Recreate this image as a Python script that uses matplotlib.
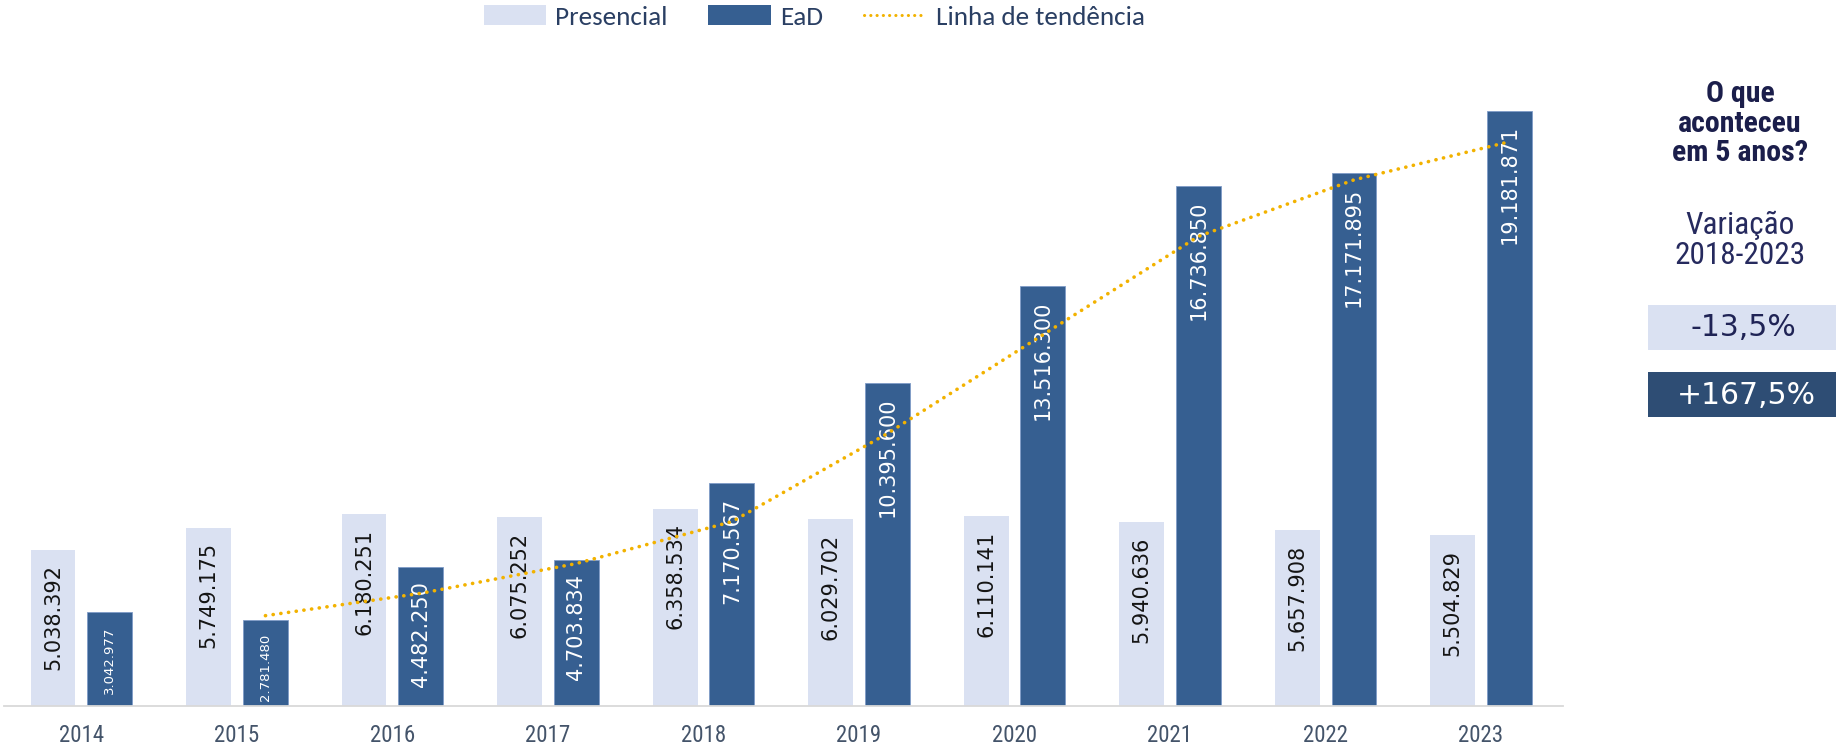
import matplotlib
matplotlib.use('Agg')
import matplotlib.pyplot as plt
from matplotlib.patches import Patch, Rectangle
from matplotlib.lines import Line2D

# dados
anos = ['2014', '2015', '2016', '2017', '2018', '2019', '2020', '2021', '2022', '2023']
presencial = [5038392, 5749175, 6180251, 6075252, 6358534, 6029702, 6110141, 5940636, 5657908, 5504829]
ead = [3042977, 2781480, 4482250, 4703834, 7170567, 10395600, 13516300, 16736850, 17171895, 19181871]
# linha de tendencia (2015 a 2023)
tend_anos = ['2015', '2016', '2017', '2018', '2019', '2020', '2021', '2022', '2023']
tendencia = [2.91e6, 3.63e6, 4.59e6, 5.94e6, 8.78e6, 11.96e6, 15.13e6, 16.95e6, 18.18e6]
var_presencial = '-13,5%'
var_ead = '+167,5%'

COR_PRES = '#DAE1F2'
COR_EAD = '#365F91'
COR_TEND = '#F2B200'
NARROW = ['Liberation Sans Narrow', 'Roboto Condensed', 'Archivo Narrow', 'Liberation Sans']
CALIBRI = ['Carlito', 'Lato', 'DejaVu Sans']

W, H = 1836, 748
fig = plt.figure(figsize=(W / 100, H / 100), dpi=100)
fig.patch.set_facecolor('white')

def fx(x):
    return x / W

def fy(y):
    return 1 - y / H

ax = fig.add_axes([fx(4), fy(706), fx(1563 - 4), (706 - 40) / H])
ax.set_facecolor('none')

x = list(range(len(anos)))
larg = 0.289
off = 0.183
xp = [i - off for i in x]
xe = [i + off for i in x]
ax.bar(xp, presencial, width=larg, color=COR_PRES, zorder=2)
ax.bar(xe, ead, width=larg, color=COR_EAD, edgecolor='#7F9CC8', linewidth=0.6, zorder=2)

def fmt(v):
    return f'{v:,}'.replace(',', '.')

for xi, v in zip(xp, presencial):
    ax.annotate(fmt(v), (xi, v), xytext=(0, -10.5), textcoords='offset points',
                rotation=90, ha='center', va='top', fontsize=15,
                color='#141414', family='DejaVu Sans', zorder=3)
for xi, v in zip(xe, ead):
    fs = 9.5 if v < 4e6 else 15
    ax.annotate(fmt(v), (xi, v), xytext=(0, -10.5), textcoords='offset points',
                rotation=90, ha='center', va='top', fontsize=fs,
                color='white', family='DejaVu Sans', zorder=3)

xt = [anos.index(a) + off for a in tend_anos]
ax.plot(xt, tendencia, color=COR_TEND, linewidth=2.6,
        linestyle=(0, (0.05, 2.1)), dash_capstyle='round', zorder=4)

ax.set_xlim(-0.498, 9.527)
ax.set_ylim(0, (706 - 40) / 31.04 * 1e6)
for s in ['top', 'right', 'left']:
    ax.spines[s].set_visible(False)
ax.spines['bottom'].set_color('#D9D9D9')
ax.spines['bottom'].set_linewidth(1.3)
ax.set_yticks([])
ax.set_xticks(x)
ax.set_xticklabels(anos, family=NARROW, fontsize=16.5, color='#44546A')
ax.tick_params(axis='x', length=0, pad=13)

handles = [Patch(facecolor=COR_PRES, edgecolor='none'),
           Patch(facecolor=COR_EAD, edgecolor='none'),
           Line2D([0], [0], color=COR_TEND, linewidth=2.2,
                  linestyle=(0, (0.05, 2.0)), dash_capstyle='round')]
leg = fig.legend(handles, ['Presencial', 'EaD', 'Linha de tendência'],
                 loc='center', bbox_to_anchor=(fx(814), fy(17)), ncol=3,
                 frameon=False, prop={'family': CALIBRI, 'size': 19.5},
                 handlelength=2.3, handleheight=0.75, handletextpad=0.35,
                 columnspacing=1.5, borderpad=0)
for t in leg.get_texts():
    t.set_color('#2A3F63')

# painel direito
for txt, y in [('O que', 94), ('aconteceu', 124), ('em 5 anos?', 153)]:
    fig.text(fx(1740), fy(y), txt, ha='center', va='center', family=NARROW,
             fontweight='bold', fontsize=21.5, color='#1B1E4B')
for txt, y in [('Variação', 225), ('2018-2023', 256)]:
    fig.text(fx(1740), fy(y), txt, ha='center', va='center', family=NARROW,
             fontsize=22.5, color='#262A5E')

fig.patches.append(Rectangle((fx(1648), fy(350)), fx(1836 - 1648), 45 / H,
                             transform=fig.transFigure, facecolor=COR_PRES,
                             edgecolor='none'))
fig.patches.append(Rectangle((fx(1648), fy(417)), fx(1836 - 1648), 45 / H,
                             transform=fig.transFigure, facecolor='#2E4D74',
                             edgecolor='none'))
fig.text(fx(1743), fy(328), var_presencial, ha='center', va='center',
         family='DejaVu Sans', fontsize=21.5, color='#1F2355')
fig.text(fx(1746), fy(395), var_ead, ha='center', va='center',
         family='DejaVu Sans', fontsize=21.5, color='white')

fig.savefig('out.png', dpi=100)
